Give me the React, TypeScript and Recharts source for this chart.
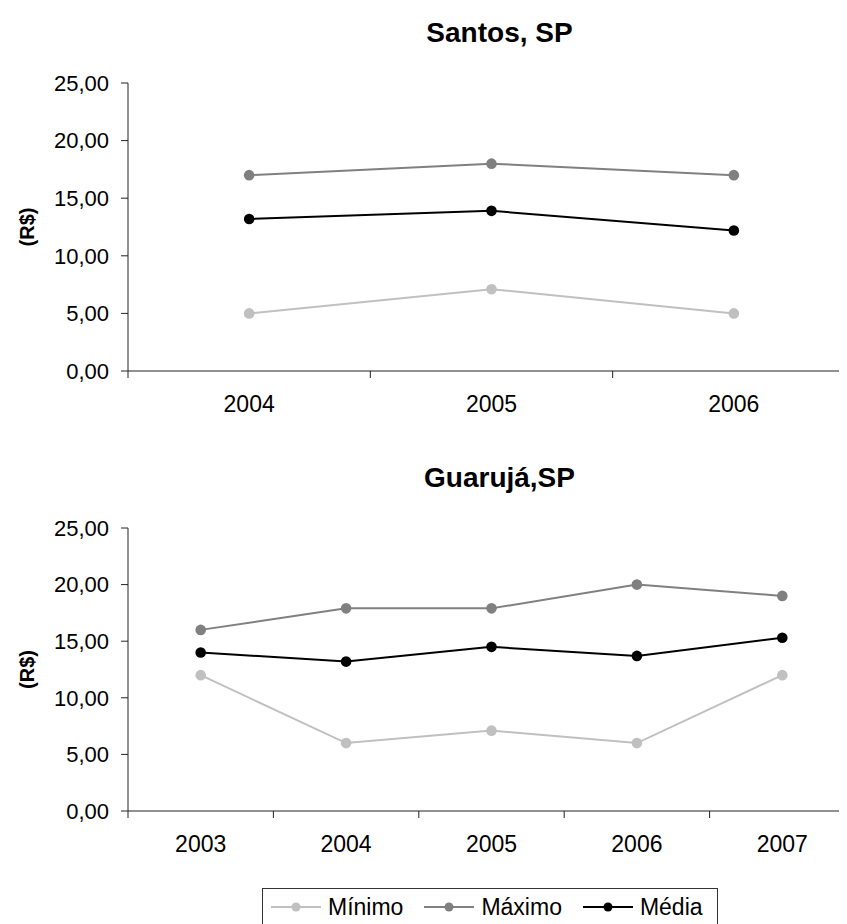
import { LineChart, Line, XAxis, YAxis, Legend } from 'recharts';

const santosYears = ['2004', '2005', '2006'];
const santosMin = [5, 7.1, 5];
const santosMax = [17, 18, 17];
const santosMean = [13.2, 13.9, 12.2];

const guarujaYears = ['2003', '2004', '2005', '2006', '2007'];
const guarujaMin = [12, 6, 7.1, 6, 12];
const guarujaMax = [16, 17.9, 17.9, 20, 19];
const guarujaMean = [14, 13.2, 14.5, 13.7, 15.3];

const yTicks = [0, 5, 10, 15, 20, 25];

const FONT = '"Liberation Sans", Arial, Helvetica, sans-serif';
const CHART_W = 860;
const AXIS_W = 120;
const PLOT_W = 727; // plot runs past the right edge of the page, like the original
const AXIS_COLOR = '#222';
const X_AXIS_H = 40;

const series = [
  { key: 'min', name: 'Mínimo', color: '#c0c0c0' },
  { key: 'max', name: 'Máximo', color: '#808080' },
  { key: 'mean', name: 'Média', color: '#000000' },
];

const fmt = (v: number) => v.toFixed(2).replace('.', ',');

function LegendBox() {
  return (
    <div
      style={{
        boxSizing: 'border-box',
        width: 456,
        height: 50,
        border: '1px solid #333',
        background: '#fff',
        padding: '1px 0 0 8px',
        display: 'flex',
        fontFamily: FONT,
      }}
    >
      {series.map((s) => (
        <div key={s.key} style={{ display: 'flex', alignItems: 'center', marginRight: 21, height: 34 }}>
          <svg width={50} height={12}>
            <line x1={0} y1={6} x2={50} y2={6} stroke={s.color} strokeWidth={2} />
            <circle cx={25} cy={6} r={4.5} fill={s.color} />
          </svg>
          <span style={{ marginLeft: 7, fontSize: 23, lineHeight: '23px', color: '#000' }}>{s.name}</span>
        </div>
      ))}
    </div>
  );
}

// Excel-style category tick: label at the band centre, tick marks at the band edges
function YearTick({ x, y, payload, index, half, last }: any) {
  return (
    <g>
      <line x1={x - half} x2={x - half} y1={y} y2={y + 7} stroke={AXIS_COLOR} />
      {index === last && <line x1={x + half} x2={x + half} y1={y} y2={y + 7} stroke={AXIS_COLOR} />}
      <text x={x} y={y + 25} dy="0.71em" textAnchor="middle" fontFamily={FONT} fontSize={23} fill="#000">
        {payload.value}
      </text>
    </g>
  );
}

interface PriceChartProps {
  title: string;
  years: string[];
  min: number[];
  max: number[];
  mean: number[];
  height: number;
  top: number;
  bottom: number;
  titleY: number;
  showLegend?: boolean;
}

function PriceChart({ title, years, min, max, mean, height, top, bottom, titleY, showLegend }: PriceChartProps) {
  const data = years.map((year, i) => ({ year, min: min[i], max: max[i], mean: mean[i] }));
  const pad = PLOT_W / years.length / 2;

  return (
    <LineChart
      width={CHART_W}
      height={height}
      data={data}
      margin={{ top, right: CHART_W - AXIS_W - PLOT_W, bottom: bottom - X_AXIS_H, left: 0 }}
    >
      <text
        x={491.5}
        y={titleY}
        textAnchor="middle"
        fontFamily={FONT}
        fontSize={28}
        fontWeight="bold"
        fill="#000"
      >
        {title}
      </text>
      <XAxis
        dataKey="year"
        height={X_AXIS_H}
        padding={{ left: pad, right: pad }}
        interval={0}
        tickLine={false}
        tickSize={0}
        tickMargin={0}
        axisLine={{ stroke: AXIS_COLOR }}
        tick={(props: any) => <YearTick {...props} half={pad} last={years.length - 1} />}
      />
      <YAxis
        width={AXIS_W}
        domain={[0, 25]}
        ticks={yTicks}
        tickFormatter={fmt}
        tickSize={7}
        tickMargin={12}
        axisLine={{ stroke: AXIS_COLOR }}
        tickLine={{ stroke: AXIS_COLOR }}
        tick={{ fontSize: 22, fill: '#000', fontFamily: FONT }}
        label={{
          content: ({ viewBox }: any) => {
            const cx = viewBox.x + 19;
            const cy = viewBox.y + viewBox.height / 2;
            return (
              <text
                x={cx}
                y={cy}
                transform={`rotate(-90 ${cx} ${cy})`}
                textAnchor="middle"
                dominantBaseline="central"
                fontFamily={FONT}
                fontSize={20}
                fontWeight="bold"
                fill="#000"
              >
                (R$)
              </text>
            );
          },
        }}
      />
      {series.map((s) => (
        <Line
          key={s.key}
          dataKey={s.key}
          name={s.name}
          stroke={s.color}
          strokeWidth={2}
          dot={{ r: 5.3, fill: s.color, stroke: 'none', strokeWidth: 0 }}
          activeDot={false}
          isAnimationActive={false}
        />
      ))}
      {showLegend && (
        <Legend
          verticalAlign="middle"
          content={LegendBox}
          wrapperStyle={{ left: 254, top: 440, width: 456, height: 50 }}
        />
      )}
    </LineChart>
  );
}

export default function App() {
  return (
    <div
      style={{
        position: 'relative',
        width: 839,
        height: 916,
        overflow: 'hidden',
        background: '#fff',
        fontFamily: FONT,
      }}
    >
      <div style={{ position: 'absolute', left: 0, top: 0 }}>
        <PriceChart
          title="Santos, SP"
          years={santosYears}
          min={santosMin}
          max={santosMax}
          mean={santosMean}
          height={420}
          top={75}
          bottom={57}
          titleY={34.3}
        />
      </div>
      <div style={{ position: 'absolute', left: 0, top: 440 }}>
        <PriceChart
          title="Guarujá,SP"
          years={guarujaYears}
          min={guarujaMin}
          max={guarujaMax}
          mean={guarujaMean}
          height={476}
          top={80}
          bottom={113}
          titleY={39}
          showLegend
        />
      </div>
    </div>
  );
}
